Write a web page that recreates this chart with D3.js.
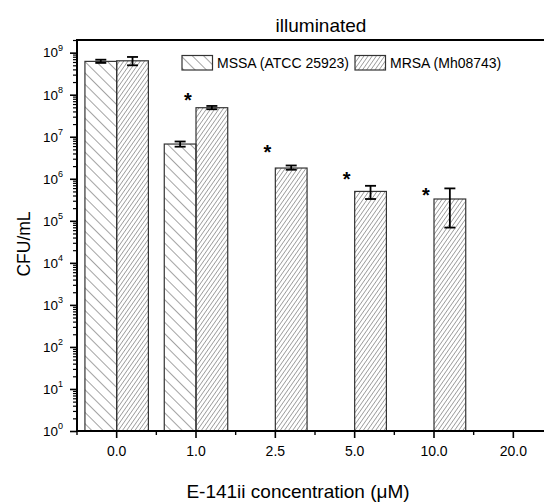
<!DOCTYPE html>
<html>
<head>
<meta charset="utf-8">
<script src="https://cdn.jsdelivr.net/npm/d3@7"></script>
<style>
  body { margin: 0; background: #fff; }
  svg text { font-family: Arial, "Liberation Sans", sans-serif; fill: #000; }
</style>
</head>
<body>
<div id="chart"></div>
<script>
// data
const concentrations = ['0.0', '1.0', '2.5', '5.0', '10.0', '20.0'];
const seriesNames = ['MSSA (ATCC 25923)', 'MRSA (Mh08743)'];
const mssaValues = [6.2e8, 6.7e6, null, null, null, null];
const mssaUpper  = [6.8e8, 7.7e6, null, null, null, null];
const mssaLower  = [5.7e8, 5.8e6, null, null, null, null];
const mrsaValues = [6.4e8, 4.9e7, 1.8e6, 5.0e5, 3.3e5, null];
const mrsaUpper  = [7.9e8, 5.4e7, 2.07e6, 6.8e5, 5.9e5, null];
const mrsaLower  = [5.0e8, 4.5e7, 1.64e6, 3.3e5, 6.9e4, null];
const starConcs  = ['1.0', '2.5', '5.0', '10.0'];
const starValues = [5.1e7, 2.95e6, 6.8e5, 2.85e5];
const yMajorTicks = [1, 10, 1e2, 1e3, 1e4, 1e5, 1e6, 1e7, 1e8, 1e9];
const yExponents  = ['0', '1', '2', '3', '4', '5', '6', '7', '8', '9'];

const width = 544, height = 502;
const margin = {top: 40, left: 77, bottom: 71};
const plotRight = 553;   // frame runs past the right edge of the picture
const axisY = height - margin.bottom;

const svg = d3.select('#chart').append('svg')
    .attr('width', width)
    .attr('height', height);

// hatch patterns
const defs = svg.append('defs');
defs.append('pattern')
    .attr('id', 'hatch-mssa')
    .attr('patternUnits', 'userSpaceOnUse')
    .attr('width', 8).attr('height', 8)
    .attr('patternTransform', 'rotate(-45)')
  .append('line')
    .attr('x1', 0).attr('y1', 0).attr('x2', 0).attr('y2', 8)
    .attr('stroke', '#555').attr('stroke-width', 1.1);
defs.append('pattern')
    .attr('id', 'hatch-mrsa')
    .attr('patternUnits', 'userSpaceOnUse')
    .attr('width', 3.4).attr('height', 8)
    .attr('patternTransform', 'rotate(35)')
  .append('line')
    .attr('x1', 0).attr('y1', 0).attr('x2', 0).attr('y2', 8)
    .attr('stroke', '#555').attr('stroke-width', 1);

const fills = ['url(#hatch-mssa)', 'url(#hatch-mrsa)'];

const x0 = d3.scaleBand()
    .domain(concentrations)
    .range([margin.left, plotRight])
    .paddingInner(0.2)
    .paddingOuter(0.1);
const x1 = d3.scaleBand()
    .domain([0, 1])
    .range([0, x0.bandwidth()]);
const y = d3.scaleLog()
    .domain([1, 2e9])
    .range([axisY, margin.top]);

const series = [
    {values: mssaValues, upper: mssaUpper, lower: mssaLower},
    {values: mrsaValues, upper: mrsaUpper, lower: mrsaLower}
];

// bars
series.forEach(function(s, si) {
    const rows = concentrations.map((c, i) => ({c: c, v: s.values[i], hi: s.upper[i], lo: s.lower[i]}))
        .filter(d => d.v != null);
    const g = svg.append('g');
    g.selectAll('rect')
        .data(rows)
        .enter()
        .append('rect')
        .attr('x', d => x0(d.c) + x1(si))
        .attr('y', d => y(d.v))
        .attr('width', x1.bandwidth())
        .attr('height', d => axisY - y(d.v))
        .attr('fill', fills[si])
        .attr('stroke', '#333')
        .attr('stroke-width', 1.2);
    // error bars
    const eb = g.selectAll('g.err')
        .data(rows)
        .enter()
        .append('g')
        .attr('stroke', '#000')
        .attr('stroke-width', 1.8);
    const cx = d => x0(d.c) + x1(si) + x1.bandwidth() / 2;
    eb.append('line')
        .attr('x1', cx).attr('x2', cx)
        .attr('y1', d => y(d.hi)).attr('y2', d => y(d.lo));
    eb.append('line')
        .attr('x1', d => cx(d) - 5.5).attr('x2', d => cx(d) + 5.5)
        .attr('y1', d => y(d.hi)).attr('y2', d => y(d.hi));
    eb.append('line')
        .attr('x1', d => cx(d) - 5.5).attr('x2', d => cx(d) + 5.5)
        .attr('y1', d => y(d.lo)).attr('y2', d => y(d.lo));
});

// significance stars
svg.append('g').selectAll('text')
    .data(starConcs.map((c, i) => ({c: c, v: starValues[i]})))
    .enter()
    .append('text')
    .attr('x', d => x0(d.c) + x0.bandwidth() / 2 - 8)
    .attr('y', d => y(d.v))
    .attr('text-anchor', 'middle')
    .attr('font-size', 20)
    .attr('font-weight', 'bold')
    .text('*');

// y axis: minor ticks then major ticks with 10^n labels
const yMinor = [];
for (let e = 0; e <= 9; e++) {
    for (let m = 2; m <= 9; m++) {
        const v = m * Math.pow(10, e);
        if (v <= 2e9) yMinor.push(v);
    }
}
svg.append('g')
    .attr('transform', 'translate(' + margin.left + ',0)')
    .call(d3.axisLeft(y).tickValues(yMinor).tickSize(4).tickFormat(''))
    .call(g => g.select('.domain').remove())
    .selectAll('line').attr('stroke-width', 1.2);

const yAxis = svg.append('g')
    .attr('transform', 'translate(' + margin.left + ',0)')
    .call(d3.axisLeft(y).tickValues(yMajorTicks).tickSize(7).tickPadding(7).tickFormat(''));
yAxis.select('.domain').remove();
yAxis.selectAll('line').attr('stroke-width', 1.6);
yAxis.selectAll('.tick text')
    .attr('font-size', 13.5)
    .attr('dy', '0.32em')
    .each(function(d, i) {
        const t = d3.select(this);
        t.append('tspan').text('10');
        t.append('tspan')
            .attr('font-size', 9)
            .attr('dy', '-0.75em')
            .text(yExponents[i]);
    });

// x axis: minor ticks at band boundaries, major ticks at band centres
const xMinorPos = concentrations.map(c => x0(c) - x0.step() * 0.1).concat([plotRight]);
svg.append('g').selectAll('line')
    .data(xMinorPos)
    .enter()
    .append('line')
    .attr('x1', d => d).attr('x2', d => d)
    .attr('y1', axisY).attr('y2', axisY + 4)
    .attr('stroke', '#000').attr('stroke-width', 1.4);

const xAxis = svg.append('g')
    .attr('transform', 'translate(0,' + axisY + ')')
    .call(d3.axisBottom(x0).tickSize(7).tickPadding(8));
xAxis.select('.domain').remove();
xAxis.selectAll('line').attr('stroke-width', 1.6);
xAxis.selectAll('text').attr('font-size', 14);

// frame: left, bottom, top
svg.append('path')
    .attr('d', 'M' + plotRight + ',' + margin.top + 'H' + margin.left + 'V' + axisY + 'H' + plotRight)
    .attr('fill', 'none')
    .attr('stroke', '#000')
    .attr('stroke-width', 2);

// legend
const legend = svg.append('g');
const legendX = [182, 355];
seriesNames.forEach(function(name, i) {
    legend.append('rect')
        .attr('x', legendX[i]).attr('y', 55.5)
        .attr('width', 30.5).attr('height', 14.5)
        .attr('fill', fills[i])
        .attr('stroke', '#333')
        .attr('stroke-width', 1.2);
    legend.append('text')
        .attr('x', legendX[i] + 35)
        .attr('y', 67.5)
        .attr('font-size', 14)
        .text(name);
});

// titles
svg.append('text')
    .attr('x', 321).attr('y', 31.5)
    .attr('text-anchor', 'middle')
    .attr('font-size', 19)
    .text('illuminated');

const xTitle = svg.append('text')
    .attr('x', 298).attr('y', 498)
    .attr('text-anchor', 'middle')
    .attr('font-size', 19);
xTitle.append('tspan').text('E-141ii concentration (');
xTitle.append('tspan').text('\u03bc');
xTitle.append('tspan').text('M)');

svg.append('text')
    .attr('transform', 'translate(30,244) rotate(-90)')
    .attr('text-anchor', 'middle')
    .attr('font-size', 17.5)
    .text('CFU/mL');
</script>
</body>
</html>
